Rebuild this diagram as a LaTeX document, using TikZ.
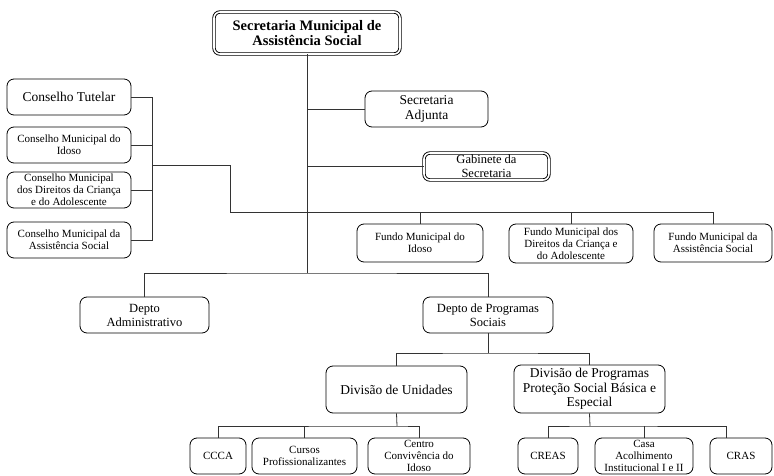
\documentclass[tikz,border=0pt]{standalone}
\usepackage{fontspec}
\setmainfont{Liberation Serif}
\usetikzlibrary{calc}
\tikzset{
  box/.style={draw=black, rounded corners=7pt, line width=0.8pt, align=center, inner sep=0pt, fill=white},
  dbl/.style={double, double distance=1.6pt, line width=0.9pt, rounded corners=6pt},
  conn/.style={draw=black!80, line width=0.8pt},
  fsm/.style={font=\fontsize{11}{12}\selectfont},
  fmd/.style={font=\fontsize{12.5}{14}\selectfont},
  flg/.style={font=\fontsize{13.5}{14.5}\selectfont},
  fti/.style={font=\fontsize{14.5}{15.5}\selectfont\bfseries},
}
\newcommand{\orgbox}[7][]{%
  \node[box,#1,minimum width={(#5-#3)*1pt},minimum height={(#6-#4)*1pt}] (#2) at ({(#3+#5)/2},{(#4+#6)/2}) {#7};}
\begin{document}
\begin{tikzpicture}[x=1pt,y=-1pt]
\useasboundingbox (0,0) rectangle (774,476);
% junction coordinates
\coordinate (jmain) at (307,273);
\coordinate (bk) at (152,165);
\coordinate (fbar) at (230,212);
\coordinate (j2) at (488,353);
\coordinate (j3) at (397,426);
\coordinate (j4) at (590,426);
% boxes
\orgbox[dbl,fti]{title}{214}{12}{400}{54}{Secretaria Municipal de\\Assistência Social}
\orgbox[flg]{ct}{7}{79}{131}{115}{Conselho Tutelar}
\orgbox[fsm]{ci}{7}{127}{131}{163}{Conselho Municipal do\\Idoso}
\orgbox[fsm]{cd}{7}{172}{131}{208}{Conselho Municipal\\dos Direitos da Criança\\e do Adolescente}
\orgbox[fsm]{cas}{7}{222}{131}{258}{Conselho Municipal da\\Assistência Social}
\orgbox[flg]{adj}{365}{91}{488}{127}{Secretaria\\Adjunta}
\orgbox[dbl,fmd]{gab}{424}{153}{549}{180}{Gabinete da\\Secretaria}
\orgbox[fsm]{fi}{357}{224}{483}{262}{Fundo Municipal do\\Idoso}
\orgbox[fsm]{fd}{509}{224}{633}{263}{Fundo Municipal dos\\Direitos da Criança e\\do Adolescente}
\orgbox[fsm]{fa}{654}{224}{772}{262}{Fundo Municipal da\\Assistência Social}
\orgbox[fmd]{da}{80}{297}{209}{333}{Depto\\Administrativo}
\orgbox[fmd]{dp}{423}{297}{553}{333}{Depto de Programas\\Sociais}
\orgbox[flg]{du}{326}{366}{467}{413}{Divisão de Unidades}
\orgbox[flg]{dpr}{514}{365}{665}{413}{Divisão de Programas\\Proteção Social Básica e\\Especial}
\orgbox[fsm]{ccca}{190}{438}{246}{474}{CCCA}
\orgbox[fsm]{cursos}{252}{438}{357}{474}{Cursos\\Profissionalizantes}
\orgbox[fsm]{centro}{368}{438}{470}{474}{Centro\\Convivência do\\Idoso}
\orgbox[fsm]{creas}{518}{438}{578}{474}{CREAS}
\orgbox[fsm]{casa}{595}{438}{693}{474}{Casa\\Acolhimento\\Institucional I e II}
\orgbox[fsm]{cras}{710}{438}{772}{474}{CRAS}
% connectors
\begin{scope}[on background layer/.style={}]
\draw[conn] (title.south) -- (jmain);
\draw[conn] (adj.west) -- (adj.west -| jmain);
\draw[conn] (gab.west) -- (gab.west -| jmain);
\draw[conn] (ct.east) -| (bk);
\draw[conn] (cas.east) -| (bk);
\draw[conn] (ci.east) -- (ci.east -| bk);
\draw[conn] (cd.east) -- (cd.east -| bk);
\draw[conn] (bk) -| (fbar) -| (fa.north);
\draw[conn] (fbar -| fi.north) -- (fi.north);
\draw[conn] (fbar -| fd.north) -- (fd.north);
\draw[conn] (da.north) |- (jmain) -| (dp.north);
\draw[conn] (dp.south) -- (j2);
\draw[conn] (du.north) |- (j2) -| (dpr.north);
\draw[conn] (du.south) -- (j3);
\draw[conn] (ccca.north) |- (j3) -| (centro.north);
\draw[conn] (cursos.north) -- (cursos.north |- j3);
\draw[conn] (dpr.south) -- (j4);
\draw[conn] (creas.north) |- (j4) -| ($(cras.north west)+(17,0)$);
\draw[conn] (casa.north) -- (casa.north |- j4);
\end{scope}
\end{tikzpicture}
\end{document}
